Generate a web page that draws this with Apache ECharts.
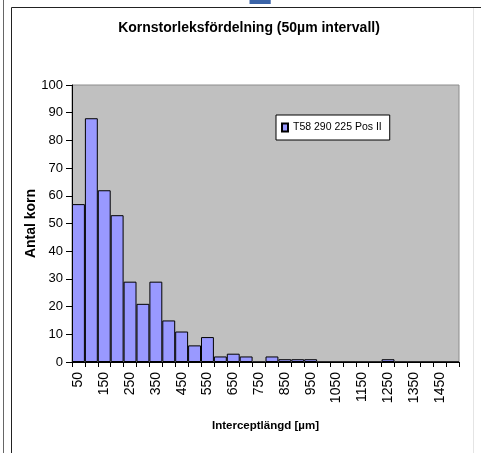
<!DOCTYPE html>
<html>
<head>
<meta charset="utf-8">
<style>
  html, body { margin: 0; padding: 0; background: #ffffff; }
  #chart { width: 481px; height: 453px; }
</style>
<script src="https://cdn.jsdelivr.net/npm/echarts@6/dist/echarts.min.js"></script>
</head>
<body>
<div id="chart"></div>
<script>
// Grain size classes (intercept length, µm) in 50 µm steps
const categories = ['50', '100', '150', '200', '250', '300', '350', '400', '450', '500',
  '550', '600', '650', '700', '750', '800', '850', '900', '950', '1000',
  '1050', '1100', '1150', '1200', '1250', '1300', '1350', '1400', '1450', '1500'];

// Number of grains counted in each class
const counts = [57, 88, 62, 53, 29, 21, 29, 15, 11, 6,
  9, 2, 3, 2, 0, 2, 1, 1, 1, 0,
  0, 0, 0, 0, 1, 0, 0, 0, 0, 0];

const yTicks = { min: 0, max: 100, step: 10 };
const seriesName = 'T58 290 225 Pos II';
const font = "'Liberation Sans', Arial, sans-serif";

const chart = echarts.init(document.getElementById('chart'), null, { renderer: 'canvas' });

chart.setOption({
  animation: false,
  backgroundColor: '#ffffff',
  textStyle: { fontFamily: font, color: '#000' },
  title: {
    text: 'Kornstorleksfördelning (50µm intervall)',
    left: 249,
    top: 21,
    padding: 0,
    textAlign: 'center',
    textStyle: { fontFamily: font, fontSize: 14, fontWeight: 'bold', color: '#000' }
  },
  legend: {
    data: [seriesName],
    left: 276,
    top: 115,
    padding: [7, 8, 7, 5],
    itemWidth: 6,
    itemHeight: 8,
    itemGap: 5,
    icon: 'rect',
    backgroundColor: '#ffffff',
    borderColor: '#000',
    borderWidth: 1,
    borderRadius: 0,
    textStyle: { fontFamily: font, fontSize: 10.5, color: '#000' }
  },
  grid: {
    left: 72,
    right: 22,
    top: 85,
    bottom: 91,
    show: true,
    backgroundColor: '#c0c0c0',
    borderColor: '#8c8c8c',
    borderWidth: 1,
    containLabel: false
  },
  xAxis: {
    type: 'category',
    data: categories,
    name: 'Interceptlängd [µm]',
    nameLocation: 'middle',
    nameGap: 58,
    nameMoveOverlap: false,
    nameTextStyle: { fontFamily: font, fontSize: 11.5, fontWeight: 'bold', color: '#000' },
    axisLine: { lineStyle: { color: '#000', width: 1 } },
    axisTick: { show: true, interval: 0, length: 5, alignWithLabel: false, lineStyle: { color: '#000' } },
    axisLabel: { interval: 1, rotate: 90, margin: 10, fontFamily: font, fontSize: 14, color: '#000' },
    splitLine: { show: false }
  },
  yAxis: {
    type: 'value',
    min: yTicks.min,
    max: yTicks.max,
    interval: yTicks.step,
    name: 'Antal korn',
    nameLocation: 'middle',
    nameGap: 34,
    nameMoveOverlap: false,
    nameRotate: 90,
    nameTextStyle: { fontFamily: font, fontSize: 14, fontWeight: 'bold', color: '#000' },
    axisLine: { show: true, lineStyle: { color: '#000', width: 1 } },
    axisTick: { show: true, length: 6, lineStyle: { color: '#000' } },
    axisLabel: { margin: 9, fontFamily: font, fontSize: 13, color: '#000' },
    splitLine: { show: false }
  },
  series: [{
    name: seriesName,
    type: 'bar',
    data: counts,
    barCategoryGap: '0%',
    itemStyle: { color: '#9999ff', borderColor: '#000', borderWidth: 1 },
    emphasis: { disabled: true }
  }],
  graphic: [
    // page frame around the chart
    { type: 'line', shape: { x1: 3.5, y1: 0, x2: 3.5, y2: 453 }, style: { stroke: '#666', lineWidth: 1 }, silent: true },
    { type: 'line', shape: { x1: 11.5, y1: 7.5, x2: 11.5, y2: 453 }, style: { stroke: '#222', lineWidth: 1 }, silent: true },
    { type: 'line', shape: { x1: 11.5, y1: 7.5, x2: 481, y2: 7.5 }, style: { stroke: '#222', lineWidth: 1 }, silent: true },
    { type: 'line', shape: { x1: 473.5, y1: 8, x2: 473.5, y2: 453 }, style: { stroke: '#e4e4e4', lineWidth: 1 }, silent: true },
    // page number peeking in above the frame
    { type: 'text', x: 248, y: 14, silent: true,
      style: { text: '2', fontFamily: font, fontSize: 44, fontWeight: 'bold', fill: '#3b64a8',
               align: 'left', verticalAlign: 'bottom' } }
  ]
});
</script>
</body>
</html>
